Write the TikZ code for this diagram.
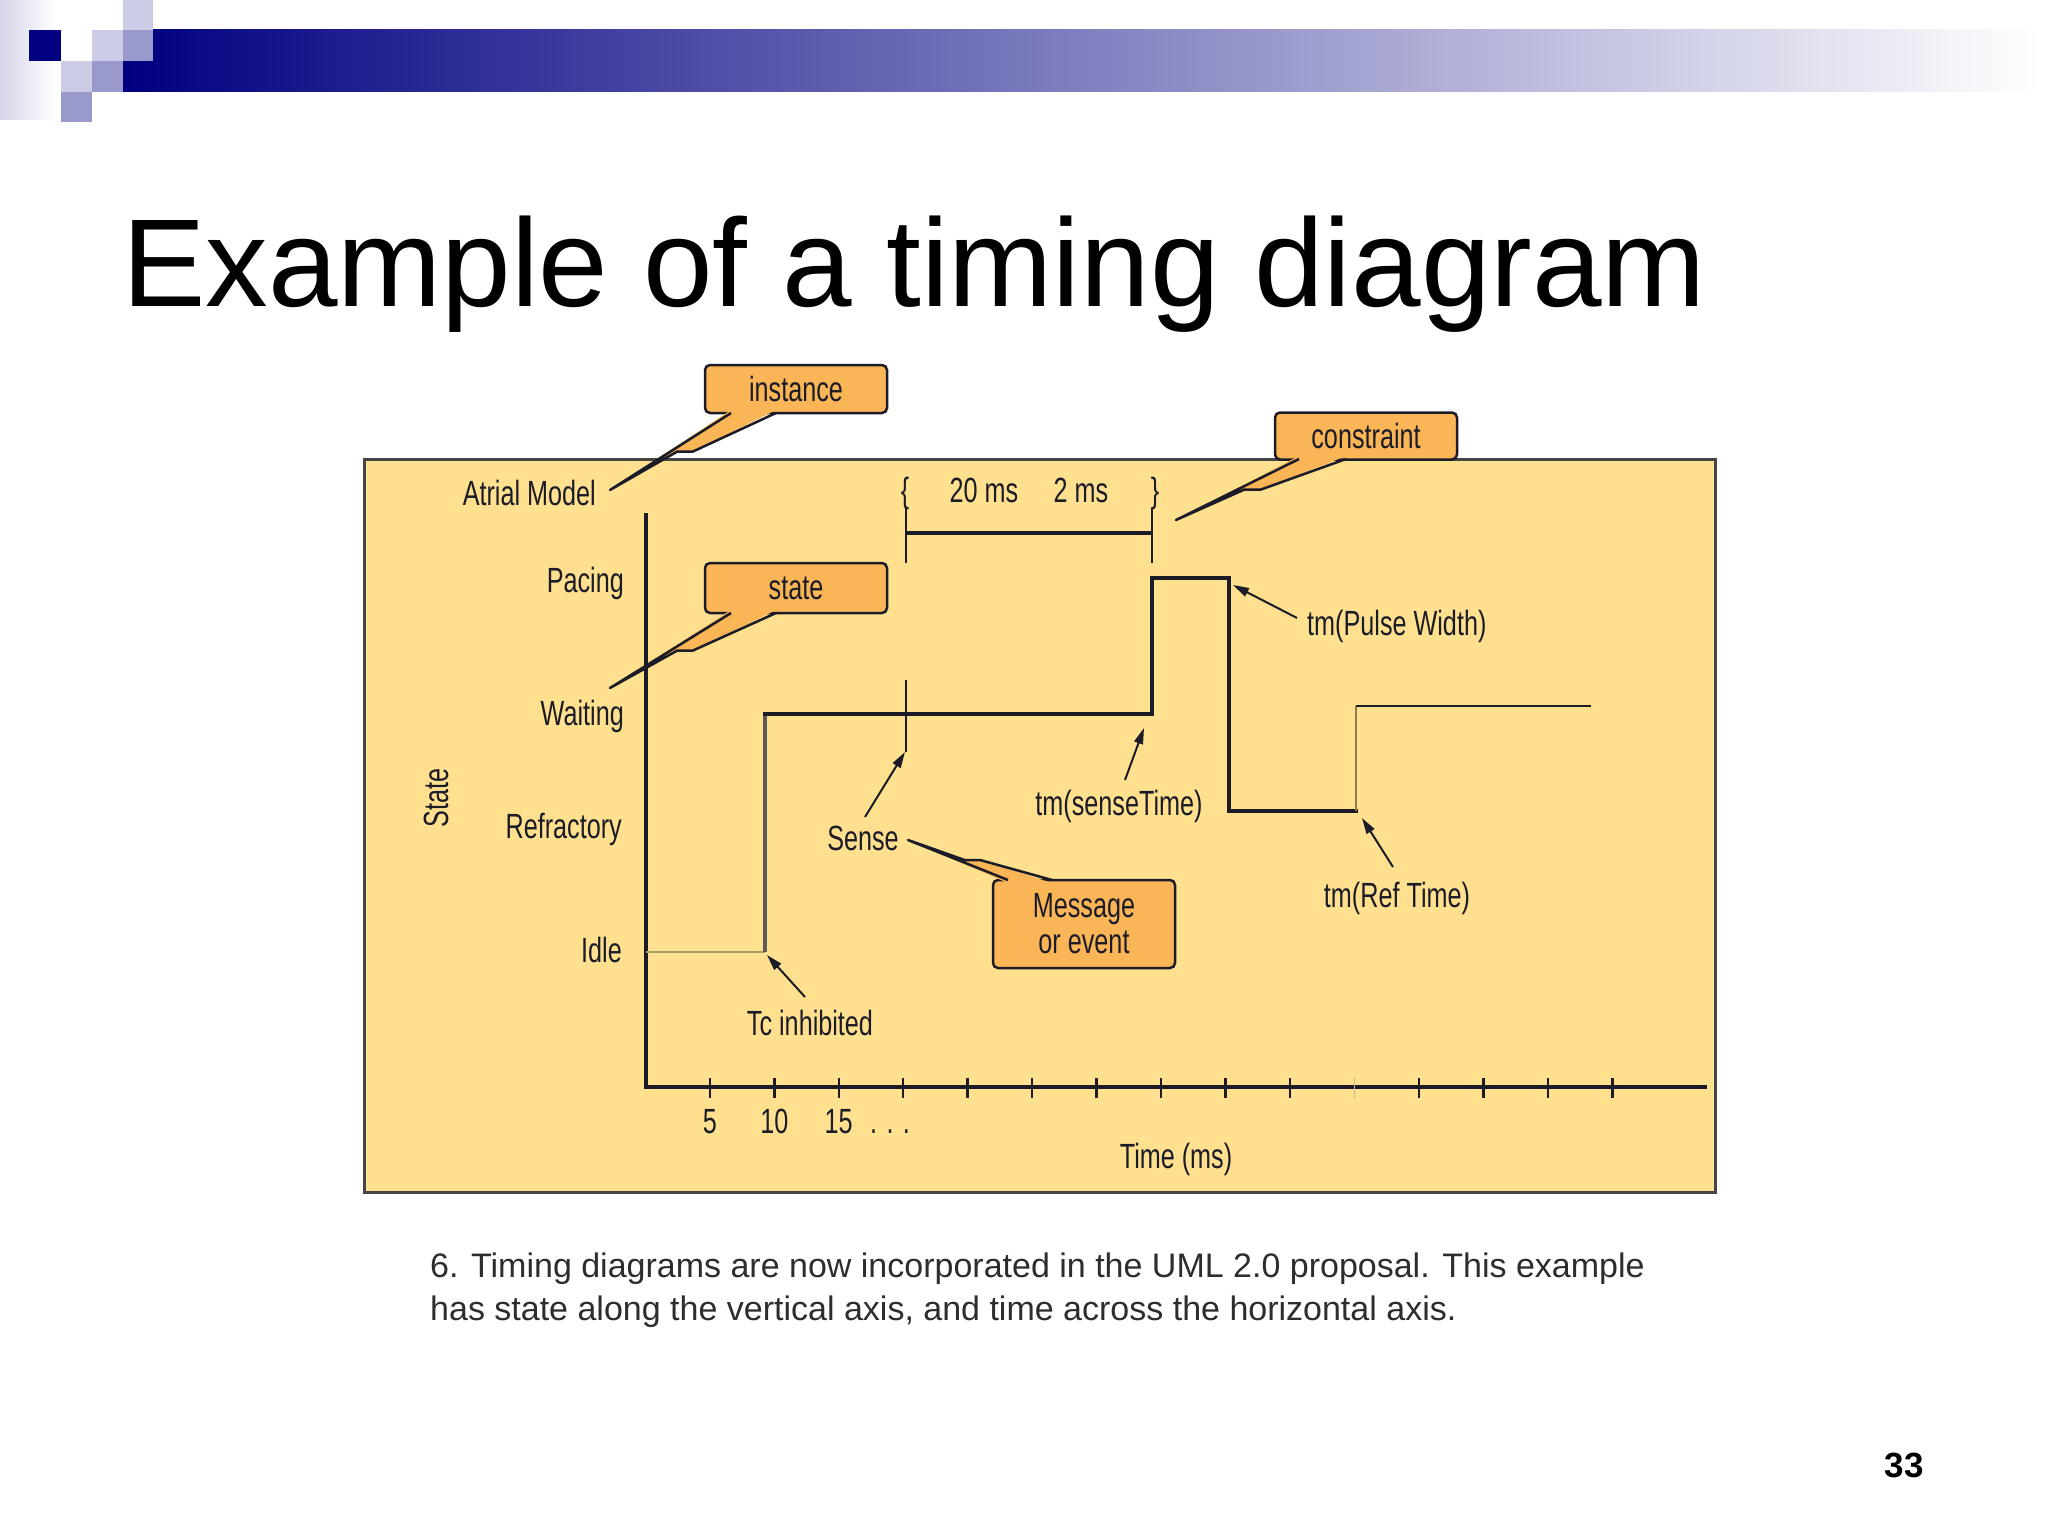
\documentclass[tikz,border=0pt]{standalone}
\usepackage{fontspec}
\setmainfont{Liberation Sans}
\newfontfamily\cond[FakeStretch=0.72]{Liberation Sans}
\usetikzlibrary{arrows.meta,calc}
\definecolor{panel}{RGB}{254,224,143}
\definecolor{callfill}{RGB}{250,182,86}
\definecolor{ink}{RGB}{28,28,40}
\definecolor{navy}{RGB}{0,0,128}
\definecolor{lav}{RGB}{204,204,230}
\definecolor{midlav}{RGB}{153,153,204}
\definecolor{strip}{RGB}{212,212,234}
\definecolor{olive}{RGB}{170,160,100}
\definecolor{capgray}{RGB}{45,45,45}
\begin{document}
\begin{tikzpicture}[x=1pt,y=-1pt,
  lbl/.style={font=\cond\fontsize{35}{36}\selectfont, text=ink, inner sep=0pt},
  callbox/.style={draw=ink, line width=2.5pt, fill=callfill, rounded corners=5pt, inner sep=0pt,
                  font=\cond\fontsize{35}{36}\selectfont, text=ink, minimum width=182pt},
  ptrfill/.style={fill=callfill},
  ptrline/.style={draw=ink, line width=2.5pt, line join=round},
  sig/.style={draw=ink, line width=3.5pt, line cap=rect},
  thin/.style={draw=ink, line width=1.8pt},
  note/.style={draw=ink, line width=2pt, -{Triangle[length=16pt,width=9pt]}},
  tick/.style={draw=ink, line width=2.5pt},
 ]
\useasboundingbox (0,0) rectangle (2048,1536);
\fill[white] (0,0) rectangle (2048,1536);

% ---------- header decoration ----------
\shade[left color=strip, right color=white] (0,0) rectangle (55,120);
\shade[left color=navy, right color=white] (123,30) rectangle (2040,92);
\fill[lav] (123,0) rectangle (153,30);
\fill[navy] (29,30) rectangle (61,61);
\fill[lav] (92,30) rectangle (123,61);
\fill[midlav] (123,30) rectangle (153,61);
\fill[lav] (61,61) rectangle (92,92);
\fill[midlav] (92,61) rectangle (123,92);
\fill[midlav] (61,92) rectangle (92,122);

% ---------- title ----------
\node[anchor=base west, inner sep=0pt, font=\fontsize{125}{130}\selectfont] (title) at (122,306) {Example of a timing diagram};

% ---------- panel ----------
\draw[fill=panel, draw={rgb,255:red,70;green,70;blue,70}, line width=3pt] (364,459) rectangle (1715,1192);

% ---------- axes ----------
\coordinate (ytop) at (646,513);
\coordinate (orig) at (646,1087);
\coordinate (xend) at (1707,1087);
\draw[draw=ink, line width=3.5pt] (ytop) -- (orig) -- (xend);
\foreach \k in {1,...,10,12,13,14,15} {
  \draw[tick] ({645.3+64.48*\k},1078) -- ({645.3+64.48*\k},1098);
}
\draw[tick, draw=olive!70, line width=1.5pt] ({645.3+64.48*11},1078) -- ({645.3+64.48*11},1098);

% ---------- signal ----------
\coordinate (s0) at (646,952);
\coordinate (s1) at (765,952);
\coordinate (s2) at (765,714);
\coordinate (s3) at (1152,714);
\coordinate (s4) at (1152,578);
\coordinate (s5) at (1229,578);
\coordinate (s6) at (1229,811);
\coordinate (s7) at (1356,811);
\coordinate (s8) at (1356,706);
\coordinate (s9) at (1591,706);
\draw[draw=olive, line width=2pt] (s0) -- (s1);
\draw[draw={rgb,255:red,90;green,90;blue,90}, line width=3.5pt] (s1) -- (s2);
\draw[sig] (s2) -- (s3) -- (s4) -- (s5) -- (s6) -- (s7);
\draw[draw=olive!80!black, line width=1.6pt] (s7) -- (s8);
\draw[thin] (s8) -- (s9);

% ---------- constraint marker ----------
\coordinate (c1t) at (906,508);
\coordinate (c1b) at (906,563);
\coordinate (c2t) at (1152,508);
\coordinate (c2b) at (1152,563);
\coordinate (c1m) at (906,533);
\coordinate (c2m) at (1152,533);
\draw[thin] (c1t) -- (c1b);
\draw[thin] (c2t) -- (c2b);
\draw[draw=ink, line width=3.5pt] (c1m) -- (c2m);
\coordinate (m1) at (906,680);
\coordinate (m2) at (906,752);
\draw[thin] (m1) -- (m2);

\node[lbl, anchor=base] (lbr) at (905,502) {\{};
\node[lbl, anchor=base] (ms20) at (984,502) {20 ms};
\node[lbl, anchor=base] (ms2) at (1081,502) {2 ms};
\node[lbl, anchor=base] (rbr) at (1155,502) {\}};

% ---------- state labels ----------
\node[lbl, anchor=base east] (atrial) at (596,505) {Atrial Model};
\node[lbl, anchor=base east] (pacing) at (624,592) {Pacing};
\node[lbl, anchor=base east] (waiting) at (624,725) {Waiting};
\node[lbl, anchor=base east] (refr) at (622,838) {Refractory};
\node[lbl, anchor=base east] (idle) at (622,962) {Idle};
\node[lbl, rotate=90] (statelbl) at (436,798) {State};

% ---------- tick labels ----------
\node[lbl, anchor=base] (t5) at (709.8,1133) {5};
\node[lbl, anchor=base] (t10) at (774.3,1133) {10};
\node[lbl, anchor=base] (t15) at (838.7,1133) {15};
\node[lbl, anchor=base] (tdots) at (890,1133) {. . .};
\node[lbl, anchor=base] (timems) at (1176,1168) {Time (ms)};

% ---------- annotations ----------
\node[lbl, anchor=base] (sense) at (863,850) {Sense};
\node[lbl, anchor=base] (tcinh) at (810,1035) {Tc inhibited};
\node[lbl, anchor=base west] (pulse) at (1307,635) {tm(Pulse Width)};
\node[lbl, anchor=base] (senset) at (1119,815) {tm(senseTime)};
\node[lbl, anchor=base] (reft) at (1397,907) {tm(Ref Time)};

\coordinate (senseTail) at (865,817);  \coordinate (senseTip) at (905,752);
\coordinate (tcTail) at (805,997);     \coordinate (tcTip) at (767,955);
\coordinate (stTail) at (1125,780);    \coordinate (stTip) at (1144,728);
\coordinate (pwTail) at (1297,618);    \coordinate (pwTip) at (1233,585);
\coordinate (rtTail) at (1393,867);    \coordinate (rtTip) at (1362,818);
\draw[note] (senseTail) -- (senseTip);
\draw[note] (tcTail) -- (tcTip);
\draw[note] (stTail) -- (stTip);
\draw[note] (pwTail) -- (pwTip);
\draw[note] (rtTail) -- (rtTip);

% ---------- callouts ----------
\node[callbox, minimum height=48pt] (inst) at (796,389) {instance};
\node[callbox, minimum height=50pt] (stbox) at (796,588) {state};
\node[callbox, minimum height=47pt] (cons) at (1366,436) {constraint};
\node[callbox, minimum height=88pt, align=center] (msg) at (1084,924) {Message\\or event};

% instance pointer
\fill[ptrfill] (731,410) -- (610,490) -- (677.3,451.5) -- (693,451.5) -- (776,410) -- cycle;
\draw[ptrline] (731,413) -- (610,490) -- (677.3,451.5) -- (693,451.5) -- (776,413);
% state pointer
\fill[ptrfill] (731,610) -- (610,688) -- (677.3,650.5) -- (693,650.5) -- (776,610) -- cycle;
\draw[ptrline] (731,613) -- (610,688) -- (677.3,650.5) -- (693,650.5) -- (776,613);
% constraint pointer
\fill[ptrfill] (1299,456) -- (1176,520) -- (1244.5,489.5) -- (1261,489.5) -- (1346,456) -- cycle;
\draw[ptrline] (1299,459) -- (1176,520) -- (1244.5,489.5) -- (1261,489.5) -- (1346,459);
% message pointer
\fill[ptrfill] (1008,883) -- (908,840) -- (964.6,860) -- (980,860) -- (1052,883) -- cycle;
\draw[ptrline] (1008,880) -- (908,840) -- (964.6,860) -- (980,860) -- (1052,880);

% ---------- caption ----------
\node[anchor=base west, inner sep=0pt, text=capgray, font=\fontsize{34}{36}\selectfont] (cap1) at (430,1277)
  {6. Timing diagrams are now incorporated in the UML 2.0 proposal. This example};
\node[anchor=base west, inner sep=0pt, text=capgray, font=\fontsize{34}{36}\selectfont] (cap2) at (430,1320)
  {has state along the vertical axis, and time across the horizontal axis.};

% ---------- page number ----------
\node[anchor=base east, inner sep=0pt, font=\bfseries\fontsize{35}{36}\selectfont] (pnum) at (1924,1477) {33};
\end{tikzpicture}
\end{document}
